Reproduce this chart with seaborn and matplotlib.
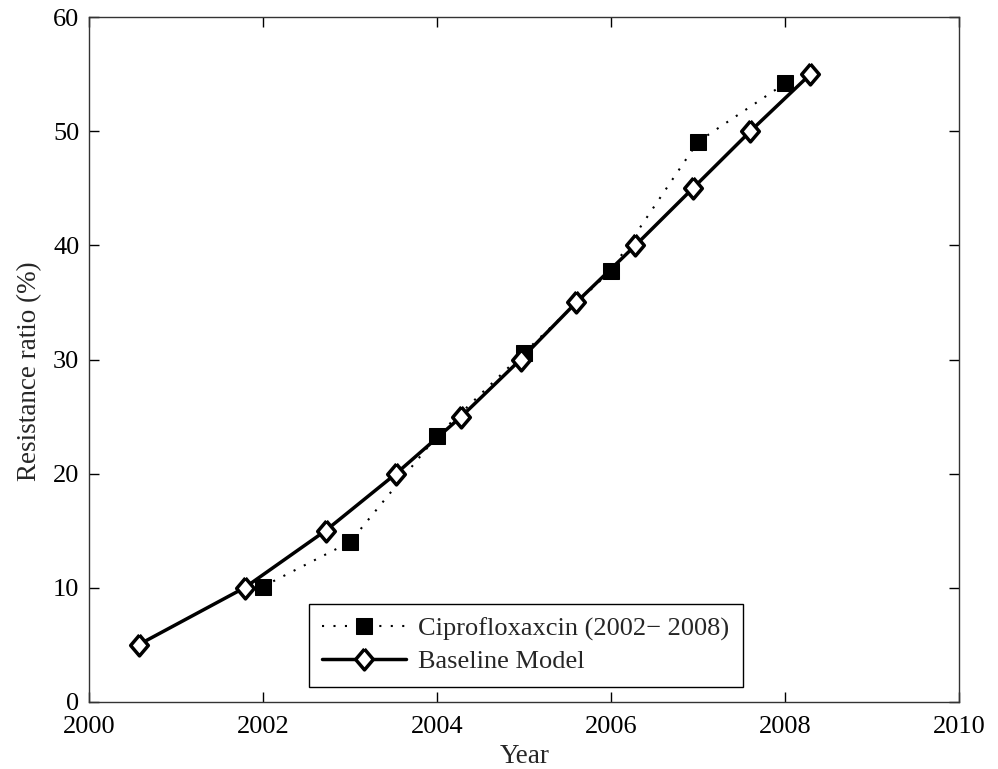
import numpy as np
import pandas as pd
import matplotlib
matplotlib.use("Agg")
import matplotlib.pyplot as plt
import seaborn as sns

# data
cipro_year = [2002, 2003, 2004, 2005, 2006, 2007, 2008]
cipro_ratio = [10.1, 14.0, 23.3, 30.6, 37.8, 49.1, 54.2]

base_year = [2000.57, 2001.79, 2002.72, 2003.53, 2004.28, 2004.96,
             2005.60, 2006.28, 2006.94, 2007.60, 2008.29]
base_ratio = [5, 10, 15, 20, 25, 30, 35, 40, 45, 50, 55]

x_ticks = [2000, 2002, 2004, 2006, 2008, 2010]
y_ticks = [0, 10, 20, 30, 40, 50, 60]

sns.set_style("ticks")
plt.rcParams['font.family'] = ['Liberation Serif', 'DejaVu Serif']

fig = plt.figure(figsize=(9.98, 7.69), dpi=100)
ax = fig.add_axes([0.0892, 0.0875, 0.8717, 0.890])

df_c = pd.DataFrame({'year': cipro_year, 'ratio': cipro_ratio})
df_b = pd.DataFrame({'year': base_year, 'ratio': base_ratio})

# slightly tall diamond like the matlab one
diamond = [(0, 1), (0.85, 0), (0, -1), (-0.85, 0), (0, 1)]

sns.lineplot(data=df_c, x='year', y='ratio', ax=ax, color='black',
             linestyle=(0, (1, 4.5)), linewidth=1.5, marker='s', markersize=12,
             markerfacecolor='black', markeredgecolor='black',
             label='Ciprofloxaxcin (2002\u2212 2008)')
sns.lineplot(data=df_b, x='year', y='ratio', ax=ax, color='black',
             linewidth=2.5, marker=diamond, markersize=15,
             markerfacecolor='white', markeredgecolor='black', markeredgewidth=2.5,
             label='Baseline Model')

ax.set_xlim(2000, 2010)
ax.set_ylim(0, 60)
ax.set_xticks(x_ticks)
ax.set_yticks(y_ticks)
ax.tick_params(direction='in', length=7, width=1, top=True, right=True,
               labelsize=19, colors='black')
ax.tick_params(axis='x', pad=10)
ax.tick_params(axis='y', pad=7)
for s in ax.spines.values():
    s.set_linewidth(1.0)
    s.set_color('#333333')

ax.set_xlabel('Year', fontsize=19.5)
ax.set_ylabel('Resistance ratio (%)', fontsize=19.5)
ax.xaxis.set_label_coords(0.501, -0.062)
ax.yaxis.set_label_coords(-0.054, 0.483)

leg = ax.legend(loc='lower left', bbox_to_anchor=(0.2526, 0.022), fontsize=19,
                frameon=True, fancybox=False, edgecolor='black', framealpha=1,
                handlelength=3.2, borderpad=0.5, labelspacing=0.35,
                handletextpad=0.45, borderaxespad=0)
leg.get_frame().set_linewidth(1.0)

fig.savefig('out.png', dpi=100)
